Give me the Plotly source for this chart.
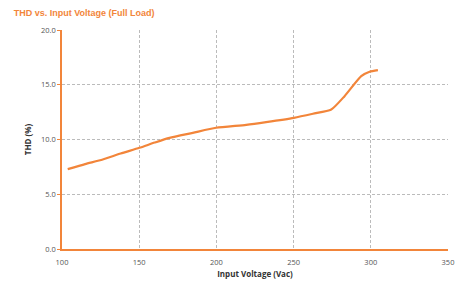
import plotly.graph_objects as go

voltage = [103.7, 115, 126.4, 138, 150.1, 160, 169.6, 184.7, 199.8, 219.3, 232.2, 250.2, 262.5, 274.4, 283, 293.8, 299.2, 304.6]
thd = [7.29, 7.75, 8.17, 8.72, 9.24, 9.72, 10.15, 10.61, 11.07, 11.34, 11.59, 11.98, 12.35, 12.74, 13.96, 15.79, 16.19, 16.34]

x_ticks = [100, 150, 200, 250, 300, 350]
y_ticks = [0, 5, 10, 15, 20]

orange = "#F2853A"

fig = go.Figure()
fig.add_trace(go.Scatter(x=voltage, y=thd, mode="lines",
                         line=dict(color=orange, width=2.2, shape="spline", smoothing=0.6),
                         showlegend=False))

fig.update_layout(
    width=458, height=284,
    margin=dict(l=62, r=10, t=30, b=35, autoexpand=False),
    paper_bgcolor="white", plot_bgcolor="white",
    font=dict(family="Open Sans, Liberation Sans, sans-serif", size=8, color="#555555"),
    title=dict(text="<b>THD vs. Input Voltage (Full Load)</b>", x=0.03, xanchor="left",
               y=0.955, yanchor="middle",
               font=dict(family="Liberation Sans, Arial, sans-serif", size=9, color=orange)),
)
fig.update_xaxes(range=[100, 350], tickvals=x_ticks, ticktext=[str(v) for v in x_ticks],
                 automargin=False,
                 showline=True, linecolor=orange, linewidth=1.5,
                 showgrid=True, gridcolor="#BBBBBB", griddash="3px,2px", gridwidth=1,
                 zeroline=False, ticks="", ticklabelstandoff=5,
                 tickfont=dict(size=7.5, color="#555555"),
                 title=dict(text="<b>Input Voltage (Vac)</b>", font=dict(size=8, color="#333333"), standoff=6))
fig.update_yaxes(range=[0, 20], tickvals=y_ticks, ticktext=[f"{v:.1f}" for v in y_ticks],
                 automargin=False,
                 showline=True, linecolor=orange, linewidth=1.5,
                 showgrid=True, gridcolor="#BBBBBB", griddash="3px,2px", gridwidth=1,
                 zeroline=False, ticks="outside", ticklen=3, tickcolor=orange,
                 tickfont=dict(size=7.5, color="#555555"),
                 title=dict(text="<b>THD (%)</b>", font=dict(size=8, color="#333333"), standoff=8))

fig.write_html("out.html", config={"displayModeBar": False},
               post_script="document.body.style.margin='0';")
